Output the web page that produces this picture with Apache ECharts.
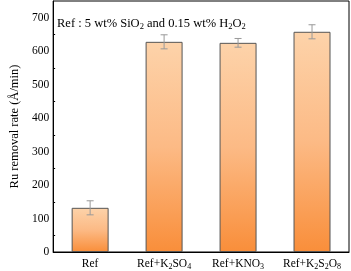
<!DOCTYPE html>
<html><head><meta charset="utf-8">
<script src="https://cdn.jsdelivr.net/npm/echarts@6/dist/echarts.min.js"></script>
<style>html,body{margin:0;padding:0;background:#fff}#c{width:351px;height:271px}</style>
</head><body><div id="c"></div>
<script>
const categories = ['Ref', 'Ref+K{s|2}SO{s|4}', 'Ref+KNO{s|3}', 'Ref+K{s|2}S{s|2}O{s|8}'];
const values = [132, 628, 625, 658];
const errors = [21, 21, 13, 21];
const yTicks = [0, 100, 200, 300, 400, 500, 600, 700];

const FONT = '"Liberation Serif","Times New Roman",serif';
const chart = echarts.init(document.getElementById('c'));
chart.setOption({
  animation: false,
  grid: {left: 38, right: 2, top: 1, bottom: 19, show: true, borderColor: '#000', borderWidth: 1},
  title: {
    text: 'Ref : 5 wt% SiO{s|2} and 0.15 wt% H{s|2}O{s|2}',
    left: 52, top: 11,
    textStyle: {fontFamily: FONT, fontSize: 12.5, fontWeight: 'normal', color: '#000', lineHeight: 15,
      rich: {s: {fontSize: 8.5, fontFamily: FONT, color: '#000', verticalAlign: 'bottom', lineHeight: 10}}}
  },
  xAxis: {
    type: 'category', data: categories,
    axisLine: {lineStyle: {color: '#000', width: 1}},
    axisTick: {inside: true, alignWithLabel: true, length: 4, lineStyle: {color: '#000'}},
    axisLabel: {interval: 0, fontFamily: FONT, fontSize: 11.5, color: '#000', margin: 5, lineHeight: 14,
      rich: {s: {fontSize: 8, fontFamily: FONT, color: '#000', verticalAlign: 'bottom', lineHeight: 9}}}
  },
  yAxis: {
    type: 'value', min: 0, max: 750, interval: 100,
    name: 'Ru removal rate (Å/min)', nameLocation: 'middle', nameGap: 26,
    nameTextStyle: {fontFamily: FONT, fontSize: 12.5, color: '#000'},
    axisLine: {show: true, lineStyle: {color: '#000'}},
    axisTick: {inside: true, length: 4, lineStyle: {color: '#000'}},
    minorTick: {show: true, splitNumber: 2, length: 2, lineStyle: {color: '#000'}},
    splitLine: {show: false},
    axisLabel: {fontFamily: FONT, fontSize: 11.5, color: '#000', margin: 4, showMaxLabel: false,
      formatter: v => yTicks.includes(v) ? String(v) : ''}
  },
  series: [{
    type: 'bar', data: values, barWidth: '50%',
    itemStyle: {
      borderColor: '#555', borderWidth: 1,
      color: new echarts.graphic.LinearGradient(0, 0, 0, 1, [
        {offset: 0, color: '#FDD3AA'}, {offset: 0.5, color: '#FCBA85'}, {offset: 1, color: '#F98E3A'}
      ])
    }
  }, {
    type: 'custom',
    data: values.map((v, i) => [i, v - errors[i], v + errors[i]]),
    renderItem: (params, api) => {
      const lo = api.coord([api.value(0), api.value(1)]);
      const hi = api.coord([api.value(0), api.value(2)]);
      const x = lo[0], hw = 3.5;
      const st = {stroke: '#999', lineWidth: 1};
      return {type: 'group', children: [
        {type: 'line', shape: {x1: x, y1: lo[1], x2: x, y2: hi[1]}, style: st},
        {type: 'line', shape: {x1: x - hw, y1: lo[1], x2: x + hw, y2: lo[1]}, style: st},
        {type: 'line', shape: {x1: x - hw, y1: hi[1], x2: x + hw, y2: hi[1]}, style: st}
      ]};
    },
    z: 10
  }]
});
</script></body></html>
